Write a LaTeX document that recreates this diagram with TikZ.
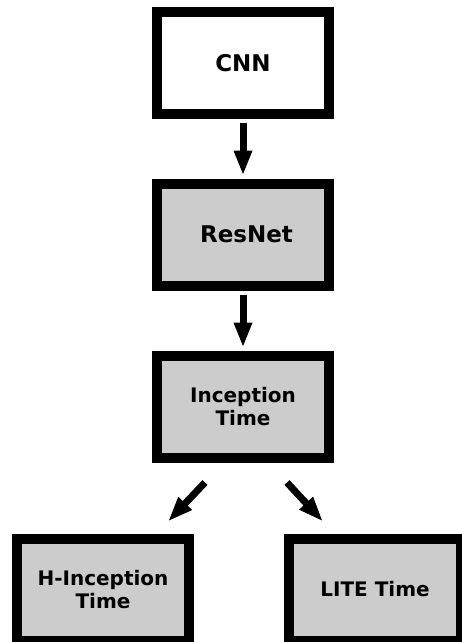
\documentclass[tikz,border=0pt]{standalone}
\usepackage{fontspec}
\setmainfont{DejaVu Sans}
\usetikzlibrary{arrows.meta,calc}
\definecolor{boxgray}{HTML}{CCCCCC}
\tikzset{
  archbox/.style={draw=black, line width=10pt, minimum width=172pt, minimum height=102pt,
    inner sep=0pt, align=center, font=\bfseries\fontsize{20}{23.3}\selectfont},
  graybox/.style={archbox, fill=boxgray},
  bigtext/.style={font=\bfseries\fontsize{23}{27}\selectfont},
  flow/.style={line width=7pt, -{Triangle[width=17pt,length=25pt]}}
}
\begin{document}
\begin{tikzpicture}[x=1pt,y=-1pt]
\useasboundingbox (0,0) rectangle (462,642);
\node[archbox, fill=white, bigtext] (cnn) at (243,63) {CNN};
\node[graybox, bigtext] (resnet) at (243,234.5) {\hspace*{7pt}ResNet};
\node[graybox] (incep) at (243,406.5) {Inception\\Time};
\node[graybox] (hinc) at (103,589.5) {H-Inception\\Time};
\node[graybox] (lite) at (375,589.5) {LITE Time};
\draw[flow, shorten <=4pt, shorten >=3pt] (cnn.south) -- (resnet.north);
\draw[flow, shorten <=4pt, shorten >=3pt] (resnet.south) -- (incep.north);
\draw[flow] ($(incep.south)+(-38,20)$) -- ($(hinc.north)+(65,-12)$);
\draw[flow] ($(incep.south)+(44,20)$) -- ($(lite.north)+(-52,-12)$);
\end{tikzpicture}
\end{document}
